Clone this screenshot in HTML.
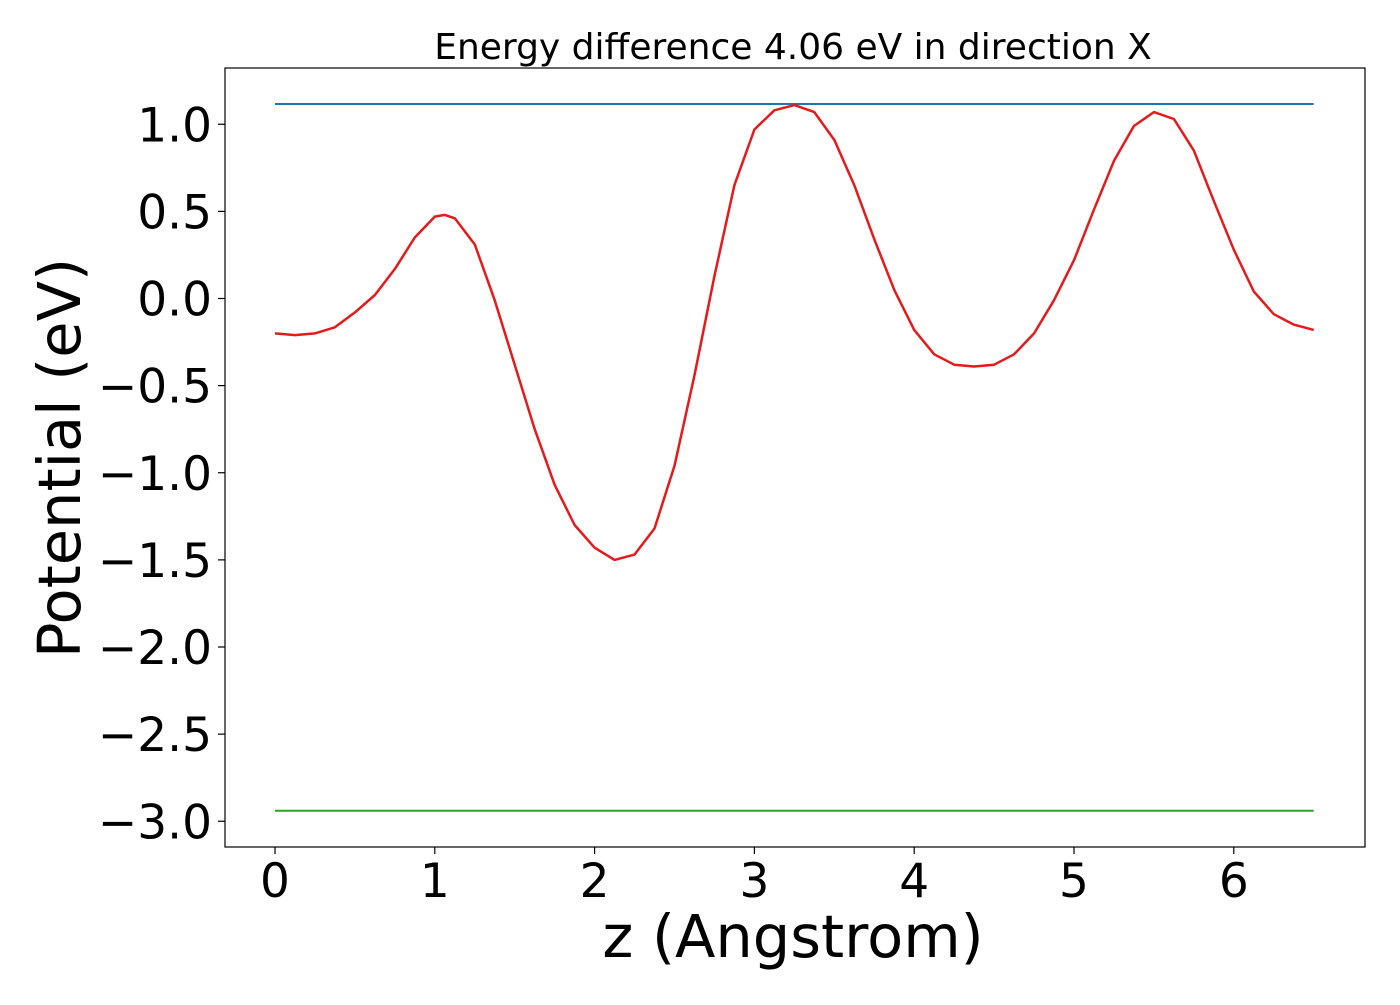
<!DOCTYPE html>
<html><head><meta charset="utf-8"><style>
body{margin:0;background:#fff;}
svg text{font-family:"DejaVu Sans","Liberation Sans",sans-serif;fill:#000;}
</style></head><body>
<svg width="1400" height="1000" id="chart">
<rect x="0" y="0" width="1400" height="1000" fill="#fff"/>
<text x="793" y="59" font-size="36" text-anchor="middle">Energy difference 4.06 eV in direction X</text>
<g id="xticks"></g>
<g id="yticks"></g>
<g id="series"></g>
<rect x="225" y="68" width="1140" height="779" fill="none" stroke="#000" stroke-width="1.2"/>
<text x="793" y="957" font-size="59" text-anchor="middle">z (Angstrom)</text>
<text transform="translate(80,458) rotate(-90)" font-size="59" text-anchor="middle">Potential (eV)</text>
</svg>
<script>
const xTicks=[0,1,2,3,4,5,6];
const yTicks=[1.0,0.5,0.0,-0.5,-1.0,-1.5,-2.0,-2.5,-3.0];
const zValues=[0,0.125,0.25,0.375,0.5,0.625,0.75,0.875,1.0,1.0625,1.125,1.25,1.375,1.5,1.625,1.75,1.875,2.0,2.125,2.25,2.375,2.5,2.625,2.75,2.875,3.0,3.125,3.25,3.375,3.5,3.625,3.75,3.875,4.0,4.125,4.25,4.375,4.5,4.625,4.75,4.875,5.0,5.125,5.25,5.375,5.5,5.625,5.75,5.875,6.0,6.125,6.25,6.375,6.5];
const potential=[-0.20,-0.21,-0.20,-0.165,-0.08,0.02,0.17,0.35,0.47,0.48,0.46,0.31,-0.01,-0.38,-0.75,-1.07,-1.30,-1.43,-1.50,-1.47,-1.32,-0.96,-0.44,0.13,0.65,0.97,1.08,1.11,1.07,0.91,0.65,0.34,0.05,-0.18,-0.32,-0.38,-0.39,-0.38,-0.32,-0.20,-0.01,0.22,0.51,0.79,0.99,1.07,1.03,0.85,0.56,0.28,0.04,-0.09,-0.15,-0.18];
const upperLevel=1.116;
const lowerLevel=-2.94;
const zRange=[0,6.5];
const NS="http://www.w3.org/2000/svg";
const X=v=>275+v*159.8;
const Y=v=>298.5-v*174.25;
function mk(t,a,p){const e=document.createElementNS(NS,t);for(const k in a)e.setAttribute(k,a[k]);p.appendChild(e);return e;}
const gx=document.getElementById('xticks'),gy=document.getElementById('yticks'),gs=document.getElementById('series');
xTicks.forEach(t=>{
 const l=mk('line',{x1:X(t),x2:X(t),y1:847,y2:854,stroke:'#000','stroke-width':1.2},gx);
 
 
 const s=mk('text',{x:X(t),y:897,'font-size':47,'text-anchor':'middle'},gx);
 s.textContent=String(t);
 
 
});
yTicks.forEach(t=>{
 const l=mk('line',{x1:218,x2:225,y1:Y(t),y2:Y(t),stroke:'#000','stroke-width':1.2},gy);
 
 
 const s=mk('text',{x:212,y:Y(t)+17,'font-size':47,'text-anchor':'end'},gy);
 s.textContent=(t<0?'\u2212':'')+Math.abs(t).toFixed(1);
 
 
});
const b=mk('line',{x1:X(zRange[0]),x2:X(zRange[1]),y1:Y(upperLevel),y2:Y(upperLevel),stroke:'#1f77b4','stroke-width':2},gs);


const g=mk('line',{x1:X(zRange[0]),x2:X(zRange[1]),y1:Y(lowerLevel),y2:Y(lowerLevel),stroke:'#2ca02c','stroke-width':2},gs);


const pts=zValues.map((z,i)=>X(z).toFixed(1)+','+Y(potential[i]).toFixed(1)).join(' ');
const r=mk('polyline',{points:pts,fill:'none',stroke:'#e41a1c','stroke-width':2.5,'stroke-linejoin':'round'},gs);


</script>
</body></html>
